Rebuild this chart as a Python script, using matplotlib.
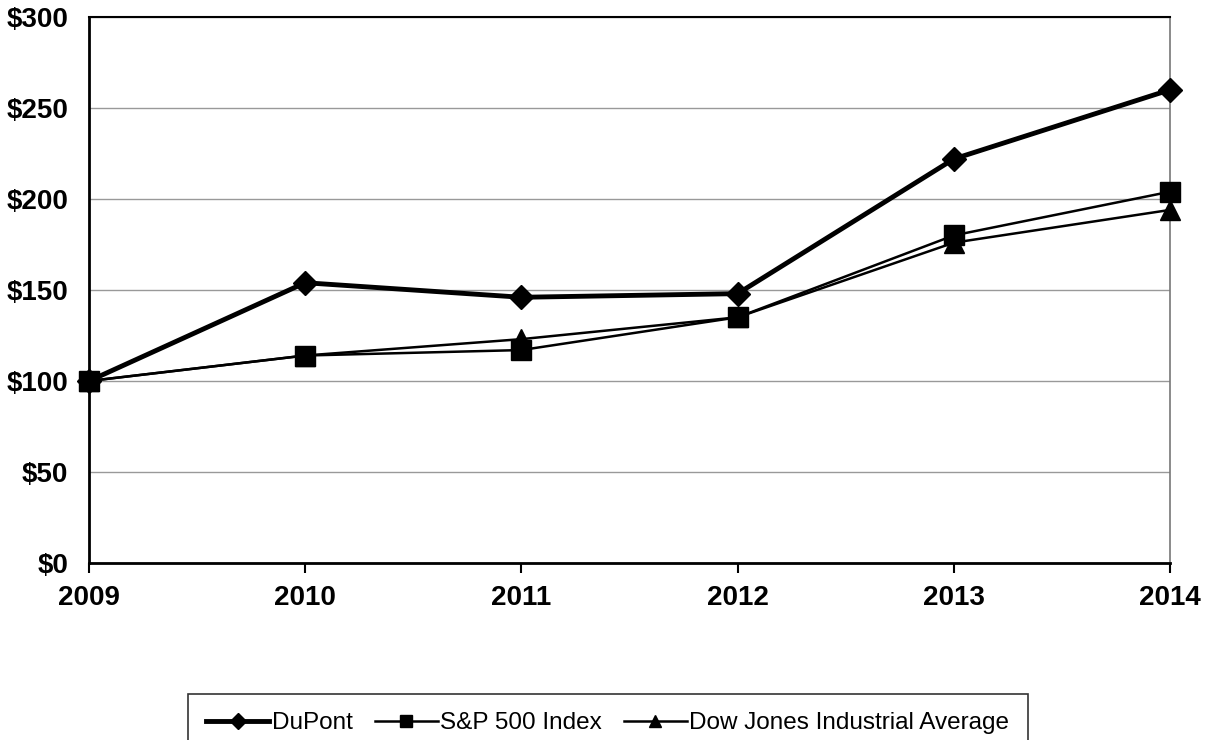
import matplotlib
matplotlib.use("Agg")
import matplotlib.pyplot as plt

years = [2009, 2010, 2011, 2012, 2013, 2014]
dupont = [100, 154, 146, 148, 222, 260]
sp500 = [100, 114, 117, 135, 180, 204]
dow = [100, 114, 123, 135, 176, 194]
yticks = [0, 50, 100, 150, 200, 250, 300]

plt.rcParams['font.family'] = ['Liberation Sans', 'DejaVu Sans']

fig = plt.figure(figsize=(12.06, 7.40), dpi=100)
ax = fig.add_axes([89/1206, 1 - 563/740, (1170 - 89)/1206, (563 - 17)/740])

ax.plot(years, sp500, color='black', lw=1.8, marker='s', ms=14, label='S&P 500 Index',
        zorder=3, clip_on=False)
ax.plot(years, dow, color='black', lw=1.8, marker='^', ms=14, label='Dow Jones Industrial Average',
        zorder=3, clip_on=False)
ax.plot(years, dupont, color='black', lw=3.5, marker='D', ms=12, label='DuPont',
        zorder=4, clip_on=False)

ax.set_xlim(2009, 2014)
ax.set_ylim(0, 300)
ax.set_xticks(years)
ax.set_yticks(yticks)
ax.set_yticklabels([f"${v}" for v in yticks])
ax.yaxis.grid(True, color='#999999', lw=1)
ax.set_axisbelow(True)

for lab in ax.get_xticklabels() + ax.get_yticklabels():
    lab.set_fontweight('bold')
    lab.set_fontsize(20)
ax.tick_params(axis='x', length=7, width=1.5, pad=9)
ax.tick_params(axis='y', length=0, pad=15)

ax.spines['left'].set_linewidth(2)
ax.spines['bottom'].set_linewidth(2)
ax.spines['top'].set_linewidth(1.5)
ax.spines['right'].set_color('#777777')
ax.spines['right'].set_linewidth(1.2)

handles, labels = ax.get_legend_handles_labels()
order = [2, 0, 1]
leg = fig.legend([handles[i] for i in order], [labels[i] for i in order],
                 loc='upper left', bbox_to_anchor=(188/1206, 1 - 694/740),
                 borderaxespad=0, ncol=3, frameon=True, fancybox=False, edgecolor='black',
                 prop={'size': 17.5},
                 handlelength=2.6, handletextpad=0.1, columnspacing=0.9,
                 markerscale=0.65, borderpad=0.75)
leg.get_frame().set_linewidth(1.2)

fig.savefig("out.png", dpi=100)
